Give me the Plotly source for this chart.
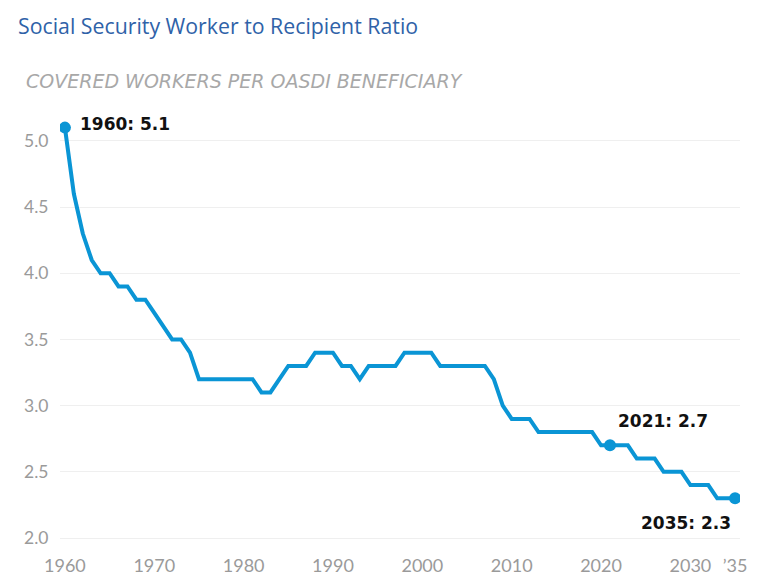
import plotly.graph_objects as go

years = list(range(1960, 2036))
ratio = [5.1, 4.6, 4.3, 4.1, 4.0, 4.0, 3.9, 3.9, 3.8, 3.8,
         3.7, 3.6, 3.5, 3.5, 3.4, 3.2, 3.2, 3.2, 3.2, 3.2,
         3.2, 3.2, 3.1, 3.1, 3.2, 3.3, 3.3, 3.3, 3.4, 3.4,
         3.4, 3.3, 3.3, 3.2, 3.3, 3.3, 3.3, 3.3, 3.4, 3.4,
         3.4, 3.4, 3.3, 3.3, 3.3, 3.3, 3.3, 3.3, 3.2, 3.0,
         2.9, 2.9, 2.9, 2.8, 2.8, 2.8, 2.8, 2.8, 2.8, 2.8,
         2.7, 2.7, 2.7, 2.7, 2.6, 2.6, 2.6, 2.5, 2.5, 2.5,
         2.4, 2.4, 2.4, 2.3, 2.3, 2.3]
highlight_years = [1960, 2021, 2035]
highlight_vals = [ratio[years.index(y)] for y in highlight_years]
highlight_text = [f"{y}: {v}" for y, v in zip(highlight_years, highlight_vals)]

x_tickvals = [1960, 1970, 1980, 1990, 2000, 2010, 2020, 2030, 2035]
x_ticktext = ["1960", "1970", "1980", "1990", "2000", "2010", "2020", "2030", "\u201935"]
y_tickvals = [2.0, 2.5, 3.0, 3.5, 4.0, 4.5, 5.0]

LINE = "#0a95d5"

fig = go.Figure()
fig.add_trace(go.Scatter(x=years, y=ratio, mode="lines",
                         line=dict(color=LINE, width=4), hoverinfo="x+y"))
fig.add_trace(go.Scatter(x=highlight_years, y=highlight_vals, mode="markers",
                         marker=dict(color=LINE, size=12), hoverinfo="x+y"))

# (xshift, yshift, xanchor, yanchor)
anno_pos = [(13, 4, "left", "middle"), (6, 24, "left", "middle"), (-2, -13, "right", "top")]
for (yr, v, t), (dx, dy, xa, ya) in zip(zip(highlight_years, highlight_vals, highlight_text), anno_pos):
    fig.add_annotation(x=yr, y=v, text=f"<b>{t}</b>", showarrow=False,
                       xshift=dx, yshift=dy, xanchor=xa, yanchor=ya,
                       font=dict(family="DejaVu Sans", size=17, color="#111111"))

fig.update_layout(
    width=768, height=588,
    margin=dict(l=60, r=28, t=121, b=43),
    paper_bgcolor="white", plot_bgcolor="white",
    showlegend=False,
    title=dict(text="Social Security Worker to Recipient Ratio",
               x=18/768, xanchor="left", y=1-27/588, yanchor="middle",
               font=dict(family="Open Sans", size=21.3, color="#2f62a8")),
    xaxis=dict(range=[1959.45, 2035.55], tickvals=x_tickvals, ticktext=x_ticktext,
               showgrid=False, zeroline=False, showline=False,
               ticks="outside", ticklen=7, tickcolor="rgba(0,0,0,0)",
               tickfont=dict(family="Lato", size=18, color="#9a9a9a")),
    yaxis=dict(range=[1.97, 5.15], tickvals=y_tickvals, tickformat=".1f",
               showgrid=True, gridcolor="#efefef", gridwidth=1,
               zeroline=False, showline=False,
               ticks="outside", ticklen=7, tickcolor="rgba(0,0,0,0)",
               tickfont=dict(family="Lato", size=17.5, color="#9a9a9a")),
)
fig.add_annotation(xref="paper", yref="paper", x=-(60-24)/680, y=1 + (121-81)/424,
                   xanchor="left", yanchor="middle", showarrow=False,
                   text="COVERED WORKERS PER OASDI BENEFICIARY",
                   font=dict(family="DejaVu Sans", size=19, color="#a8a8a8",
                             style="italic", weight=300))

fig.write_html("out.html")
